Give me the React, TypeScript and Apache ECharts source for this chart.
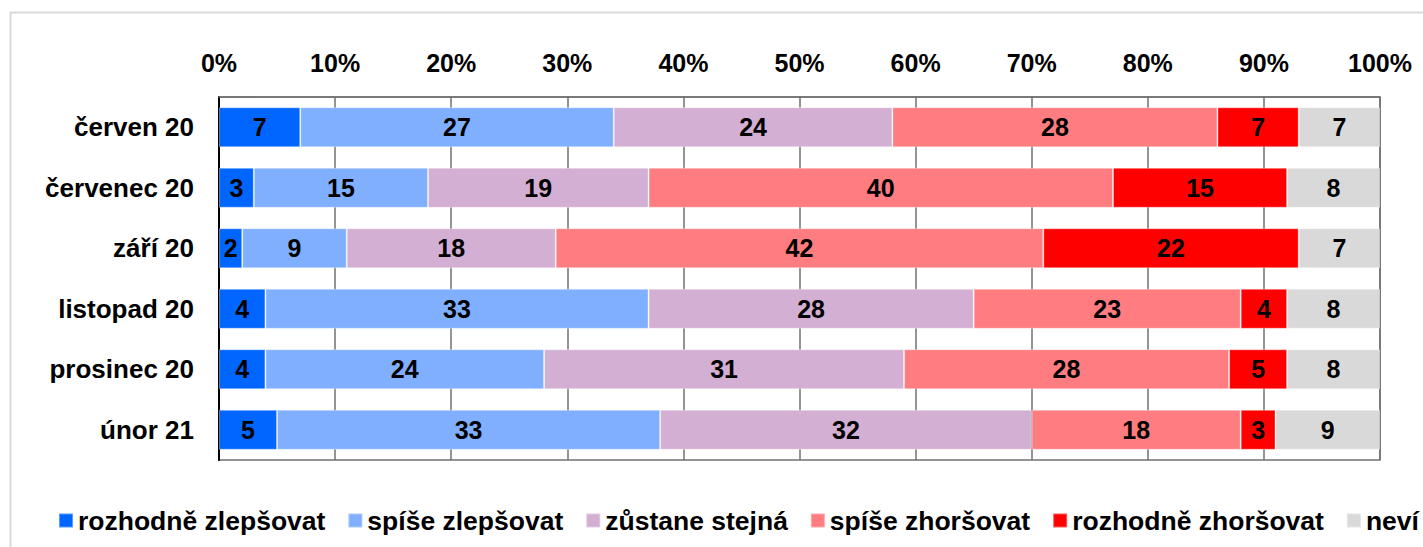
import React, { useEffect, useRef } from "react";
import * as echarts from "echarts";

const categories = ["červen 20", "červenec 20", "září 20", "listopad 20", "prosinec 20", "únor 21"];
const seriesNames = ["rozhodně zlepšovat", "spíše zlepšovat", "zůstane stejná", "spíše zhoršovat", "rozhodně zhoršovat", "neví"];
const colors = ["#0066FF", "#80AFFF", "#D3AFD3", "#FF7C80", "#FF0000", "#D9D9D9"];
const rozhodneZlepsovat = [7, 3, 2, 4, 4, 5];
const spiseZlepsovat = [27, 15, 9, 33, 24, 33];
const zustaneStejna = [24, 19, 18, 28, 31, 32];
const spiseZhorsovat = [28, 40, 42, 23, 28, 18];
const rozhodneZhorsovat = [7, 15, 22, 4, 5, 3];
const nevi = [7, 8, 7, 8, 8, 9];
const seriesValues = [rozhodneZlepsovat, spiseZlepsovat, zustaneStejna, spiseZhorsovat, rozhodneZhorsovat, nevi];

const FONT = 'Arial, "Liberation Sans", sans-serif';

export default function App() {
  const ref = useRef<HTMLDivElement>(null);
  useEffect(() => {
    document.body.style.margin = "0";
    const chart = echarts.init(ref.current!, null, { renderer: "svg" });
    chart.setOption({
      animation: false,
      backgroundColor: "#ffffff",
      textStyle: { fontFamily: FONT },
      graphic: [
        {
          type: "rect",
          shape: { x: 10.5, y: 12.5, width: 1500, height: 600 },
          style: { fill: "none", stroke: "#d9d9d9", lineWidth: 2 },
          silent: true,
          z: -10,
        },
      ],
      grid: {
        left: 219,
        top: 97,
        width: 1161,
        height: 363,
        show: true,
        borderColor: "#707070",
        borderWidth: 1.5,
        backgroundColor: "transparent",
      },
      legend: {
        left: 58,
        top: 507,
        padding: 0,
        icon: "rect",
        itemWidth: 14,
        itemHeight: 14,
        itemGap: 22,
        textStyle: { fontSize: 26.5, fontWeight: "bold", color: "#000", fontFamily: FONT },
        data: seriesNames,
      },
      xAxis: {
        type: "value",
        position: "top",
        min: 0,
        max: 100,
        interval: 10,
        axisLine: { show: true, lineStyle: { color: "#707070", width: 1.5 } },
        axisTick: { show: false },
        splitLine: { show: true, lineStyle: { color: "#707070", width: 1.5 } },
        axisLabel: {
          formatter: "{value}%",
          fontSize: 25,
          fontWeight: "bold",
          color: "#000",
          margin: 22,
          fontFamily: FONT,
        },
      },
      yAxis: {
        type: "category",
        inverse: true,
        data: categories,
        axisLine: { show: true, lineStyle: { color: "#000", width: 2 } },
        axisTick: { show: false },
        axisLabel: {
          fontSize: 26,
          fontWeight: "bold",
          color: "#000",
          margin: 25,
          fontFamily: FONT,
        },
      },
      series: seriesNames.map((name, i) => ({
        name,
        type: "bar",
        stack: "total",
        barWidth: 40,
        data: seriesValues[i],
        itemStyle: { color: colors[i], borderColor: "rgba(255,255,255,0.35)", borderWidth: 1 },
        label: {
          show: true,
          position: "inside",
          formatter: "{c}",
          fontSize: 25,
          fontWeight: "bold",
          color: "#000",
          fontFamily: FONT,
        },
      })),
    });
    return () => chart.dispose();
  }, []);
  return <div ref={ref} style={{ width: 1423, height: 547 }} />;
}
